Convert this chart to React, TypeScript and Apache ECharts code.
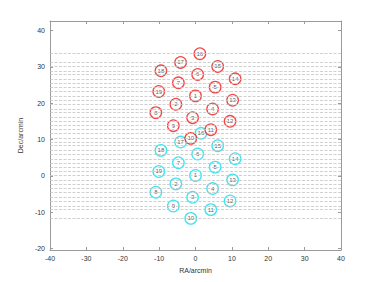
import React, { useEffect, useRef } from "react";
import * as echarts from "echarts";

const pointIds = [1, 2, 3, 4, 5, 6, 7, 8, 9, 10, 11, 12, 13, 14, 15, 16, 17, 18, 19];
const redX = [0.0, -5.4, -0.8, 4.7, 5.4, 0.6, -4.7, -10.9, -6.1, -1.3, 4.2, 9.5, 10.2, 10.9, 6.1, 1.2, -4.1, -9.5, -10.1];
const redY = [22.0, 19.7, 16.0, 18.4, 24.4, 27.9, 25.6, 17.4, 13.8, 10.3, 12.7, 15.0, 20.8, 26.7, 30.1, 33.6, 31.2, 28.9, 23.2];
const cyanX = [0.0, -5.4, -0.8, 4.7, 5.4, 0.6, -4.7, -10.9, -6.1, -1.3, 4.2, 9.5, 10.2, 10.9, 6.1, 1.5, -4.1, -9.5, -10.1];
const cyanY = [0.1, -2.2, -5.9, -3.5, 2.4, 6.0, 3.6, -4.5, -8.3, -11.7, -9.3, -6.9, -1.1, 4.7, 8.3, 11.7, 9.3, 7.0, 1.2];
const yTicks = [-20, -10, 0, 10, 20, 30, 40];

const AXIS = "#9a9a9a";
const TEXT = "#333";
const FONT = "Liberation Sans, Arial, sans-serif";

export default function App() {
  const ref = useRef<HTMLDivElement>(null);
  useEffect(() => {
    if (!ref.current) return;
    const chart = echarts.init(ref.current, undefined, { renderer: "svg" });
    const mk = (xs: number[], ys: number[]) =>
      xs.map((x, i) => ({ name: String(pointIds[i]), value: [x, ys[i]] }));
    const lineData = [...redY, ...cyanY].map((v) => ({ yAxis: v }));
    const scatterCommon = {
      type: "scatter",
      symbol: "circle",
      symbolSize: 11.5,
      label: {
        show: true,
        position: "inside",
        formatter: (p: any) => p.name,
        fontSize: 6,
        color: TEXT,
        fontFamily: FONT,
      },
    };
    const axisX = (pos: "bottom" | "top") => ({
      type: "value",
      position: pos,
      min: -40,
      max: 40,
      interval: 10,
      axisLine: { show: true, onZero: false, lineStyle: { color: AXIS, width: 1 } },
      axisTick: { show: true, inside: true, length: 3, lineStyle: { color: AXIS } },
      axisLabel: {
        show: pos === "bottom",
        fontSize: 7,
        color: TEXT,
        fontFamily: FONT,
        margin: 5,
      },
      splitLine: { show: false },
      name: pos === "bottom" ? "RA/arcmin" : "",
      nameLocation: "middle",
      nameGap: 15,
      nameTextStyle: { fontSize: 7, color: TEXT, fontFamily: FONT },
    });
    const axisY = (pos: "left" | "right") => ({
      type: "value",
      position: pos,
      min: -20.4,
      max: 42.6,
      axisLine: { show: true, onZero: false, lineStyle: { color: AXIS, width: 1 } },
      axisTick: {
        show: true,
        inside: true,
        length: 3,
        lineStyle: { color: AXIS },
        customValues: yTicks,
      },
      axisLabel: {
        show: pos === "left",
        fontSize: 7,
        color: TEXT,
        fontFamily: FONT,
        margin: 5,
        customValues: yTicks,
      },
      splitLine: { show: false },
      name: pos === "left" ? "Dec/arcmin" : "",
      nameLocation: "middle",
      nameGap: 20,
      nameTextStyle: { fontSize: 7, color: TEXT, fontFamily: FONT },
    });
    chart.setOption({
      animation: false,
      backgroundColor: "#fff",
      grid: { left: 50, right: 37, top: 21, bottom: 32 },
      xAxis: [axisX("bottom"), axisX("top")],
      yAxis: [axisY("left"), axisY("right")],
      series: [
        {
          ...scatterCommon,
          name: "lines",
          data: [],
          markLine: {
            silent: true,
            symbol: ["none", "none"],
            label: { show: false },
            lineStyle: { color: "#c4c4c4", type: [3, 1.5], width: 0.8 },
            data: lineData,
          },
        },
        {
          ...scatterCommon,
          name: "cyan",
          data: mk(cyanX, cyanY),
          itemStyle: { color: "#ffffff", borderColor: "#12dcec", borderWidth: 1.3 },
        },
        {
          ...scatterCommon,
          name: "red",
          data: mk(redX, redY),
          itemStyle: { color: "#ffffff", borderColor: "#ee1c1c", borderWidth: 1.3 },
        },
      ],
    });
    return () => chart.dispose();
  }, []);
  return (
    <div
      ref={ref}
      style={{ position: "fixed", left: 0, top: 0, width: 378, height: 282 }}
    />
  );
}
